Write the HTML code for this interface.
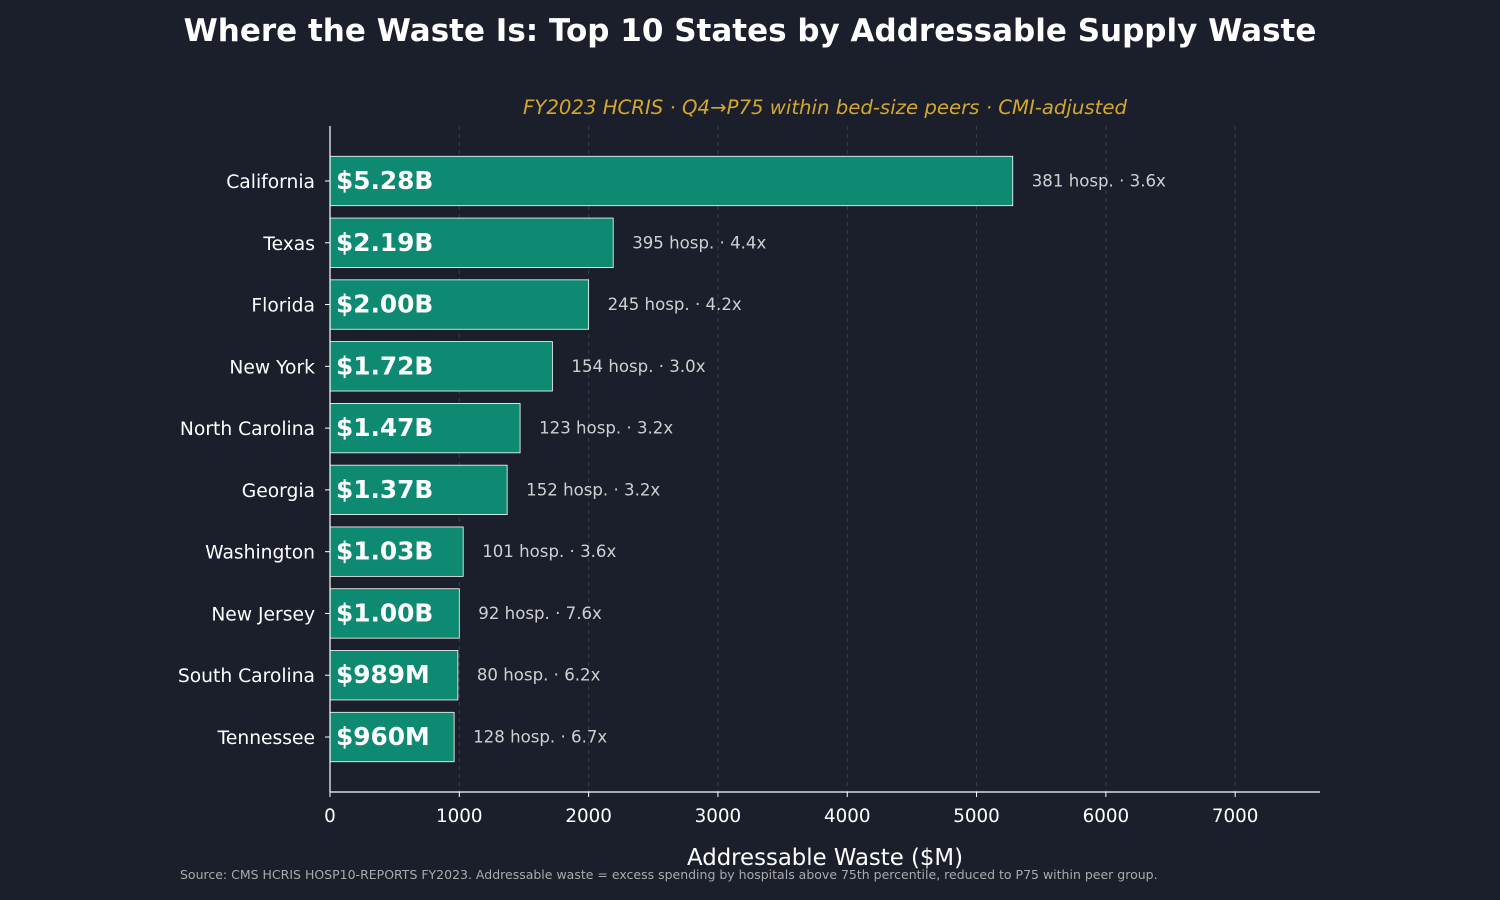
<!DOCTYPE html>
<html><head><meta charset="utf-8"><style>
html,body{margin:0;padding:0;background:#1b1f2b;}
svg{display:block;font-family:"DejaVu Sans","Liberation Sans",sans-serif;}
</style></head><body>
<svg id="chart" width="1500" height="900" viewBox="0 0 1500 900">
<rect width="1500" height="900" fill="#1b1f2b"/>
<text x="750" y="41" text-anchor="middle" fill="#ffffff" font-size="31" font-weight="bold">Where the Waste Is: Top 10 States by Addressable Supply Waste</text>
<text x="825" y="114" text-anchor="middle" fill="#d4a72c" font-size="19.7" font-style="italic">FY2023 HCRIS · Q4→P75 within bed-size peers · CMI-adjusted</text>
<g id="grid"></g><g id="bars"></g><g id="axes"></g>
<text x="825" y="865" text-anchor="middle" fill="#ffffff" font-size="22.8">Addressable Waste ($M)</text>
<text x="180" y="879" fill="#aaaaaa" font-size="12.5">Source: CMS HCRIS HOSP10-REPORTS FY2023. Addressable waste = excess spending by hospitals above 75th percentile, reduced to P75 within peer group.</text>
</svg>
<script>
const states = ["California","Texas","Florida","New York","North Carolina","Georgia","Washington","New Jersey","South Carolina","Tennessee"];
const values = [5280,2190,2000,1720,1470,1370,1030,1000,989,960];
const valueLabels = ["$5.28B","$2.19B","$2.00B","$1.72B","$1.47B","$1.37B","$1.03B","$1.00B","$989M","$960M"];
const hospCounts = [381,395,245,154,123,152,101,92,80,128];
const multipliers = ["3.6x","4.4x","4.2x","3.0x","3.2x","3.2x","3.6x","7.6x","6.2x","6.7x"];
const xTicks = [0,1000,2000,3000,4000,5000,6000,7000];

const NS="http://www.w3.org/2000/svg";
const x0=330,x1=1320,yTop=126,yBot=792;
const xMax=Math.max(...values)*1.45;
const xs=v=>x0+v/xMax*(x1-x0);
const band=(yBot-yTop)/(states.length+0.78);
const yc=i=>yTop+band*0.89+i*band;
const bh=band*0.8;
function mk(tag,attrs,parent,txt){const e=document.createElementNS(NS,tag);for(const k in attrs)e.setAttribute(k,attrs[k]);if(txt!==undefined)e.textContent=txt;parent.appendChild(e);return e;}
const grid=document.getElementById('grid'),bars=document.getElementById('bars'),axes=document.getElementById('axes');
xTicks.forEach((t,i)=>{
  if(t>0){const g=mk('line',{x1:xs(t),x2:xs(t),y1:yTop,y2:yBot,stroke:'#3a3f4e','stroke-dasharray':'4,4','stroke-width':1},grid);
  
  }
  const tk=mk('line',{x1:xs(t),x2:xs(t),y1:yBot,y2:yBot+5,stroke:'#ffffff'},axes);
  
  
  const tl=mk('text',{x:xs(t),y:yBot+30,'text-anchor':'middle',fill:'#ffffff','font-size':18.3},axes,String(t));
  
  
});
states.forEach((s,i)=>{
  const y=yc(i);
  const r=mk('rect',{x:x0,y:y-bh/2,width:xs(values[i])-x0,height:bh,fill:'#0f8a72',stroke:'#ffffff','stroke-width':0.8},bars);
  
  
  const vl=mk('text',{x:x0+6,y:y+8,fill:'#ffffff','font-size':24.8,'font-weight':'bold'},bars,valueLabels[i]);
  
  
  const an=mk('text',{x:xs(values[i])+19,y:y+5.5,fill:'#d0d0d0','font-size':16.6},bars,hospCounts[i]+' hosp. · '+multipliers[i]);
  
  
  const yl=mk('text',{x:315,y:y+7,'text-anchor':'end',fill:'#ffffff','font-size':18.7},axes,s);
  
  
  const yt=mk('line',{x1:x0-5,x2:x0,y1:y,y2:y,stroke:'#ffffff'},axes);
  
  
});
const ax=mk('line',{x1:x0,x2:x0,y1:yTop,y2:yBot,stroke:'#ffffff','stroke-width':1.2},axes);


const bx=mk('line',{x1:x0,x2:x1,y1:yBot,y2:yBot,stroke:'#ffffff','stroke-width':1.2},axes);


</script>
</body></html>
